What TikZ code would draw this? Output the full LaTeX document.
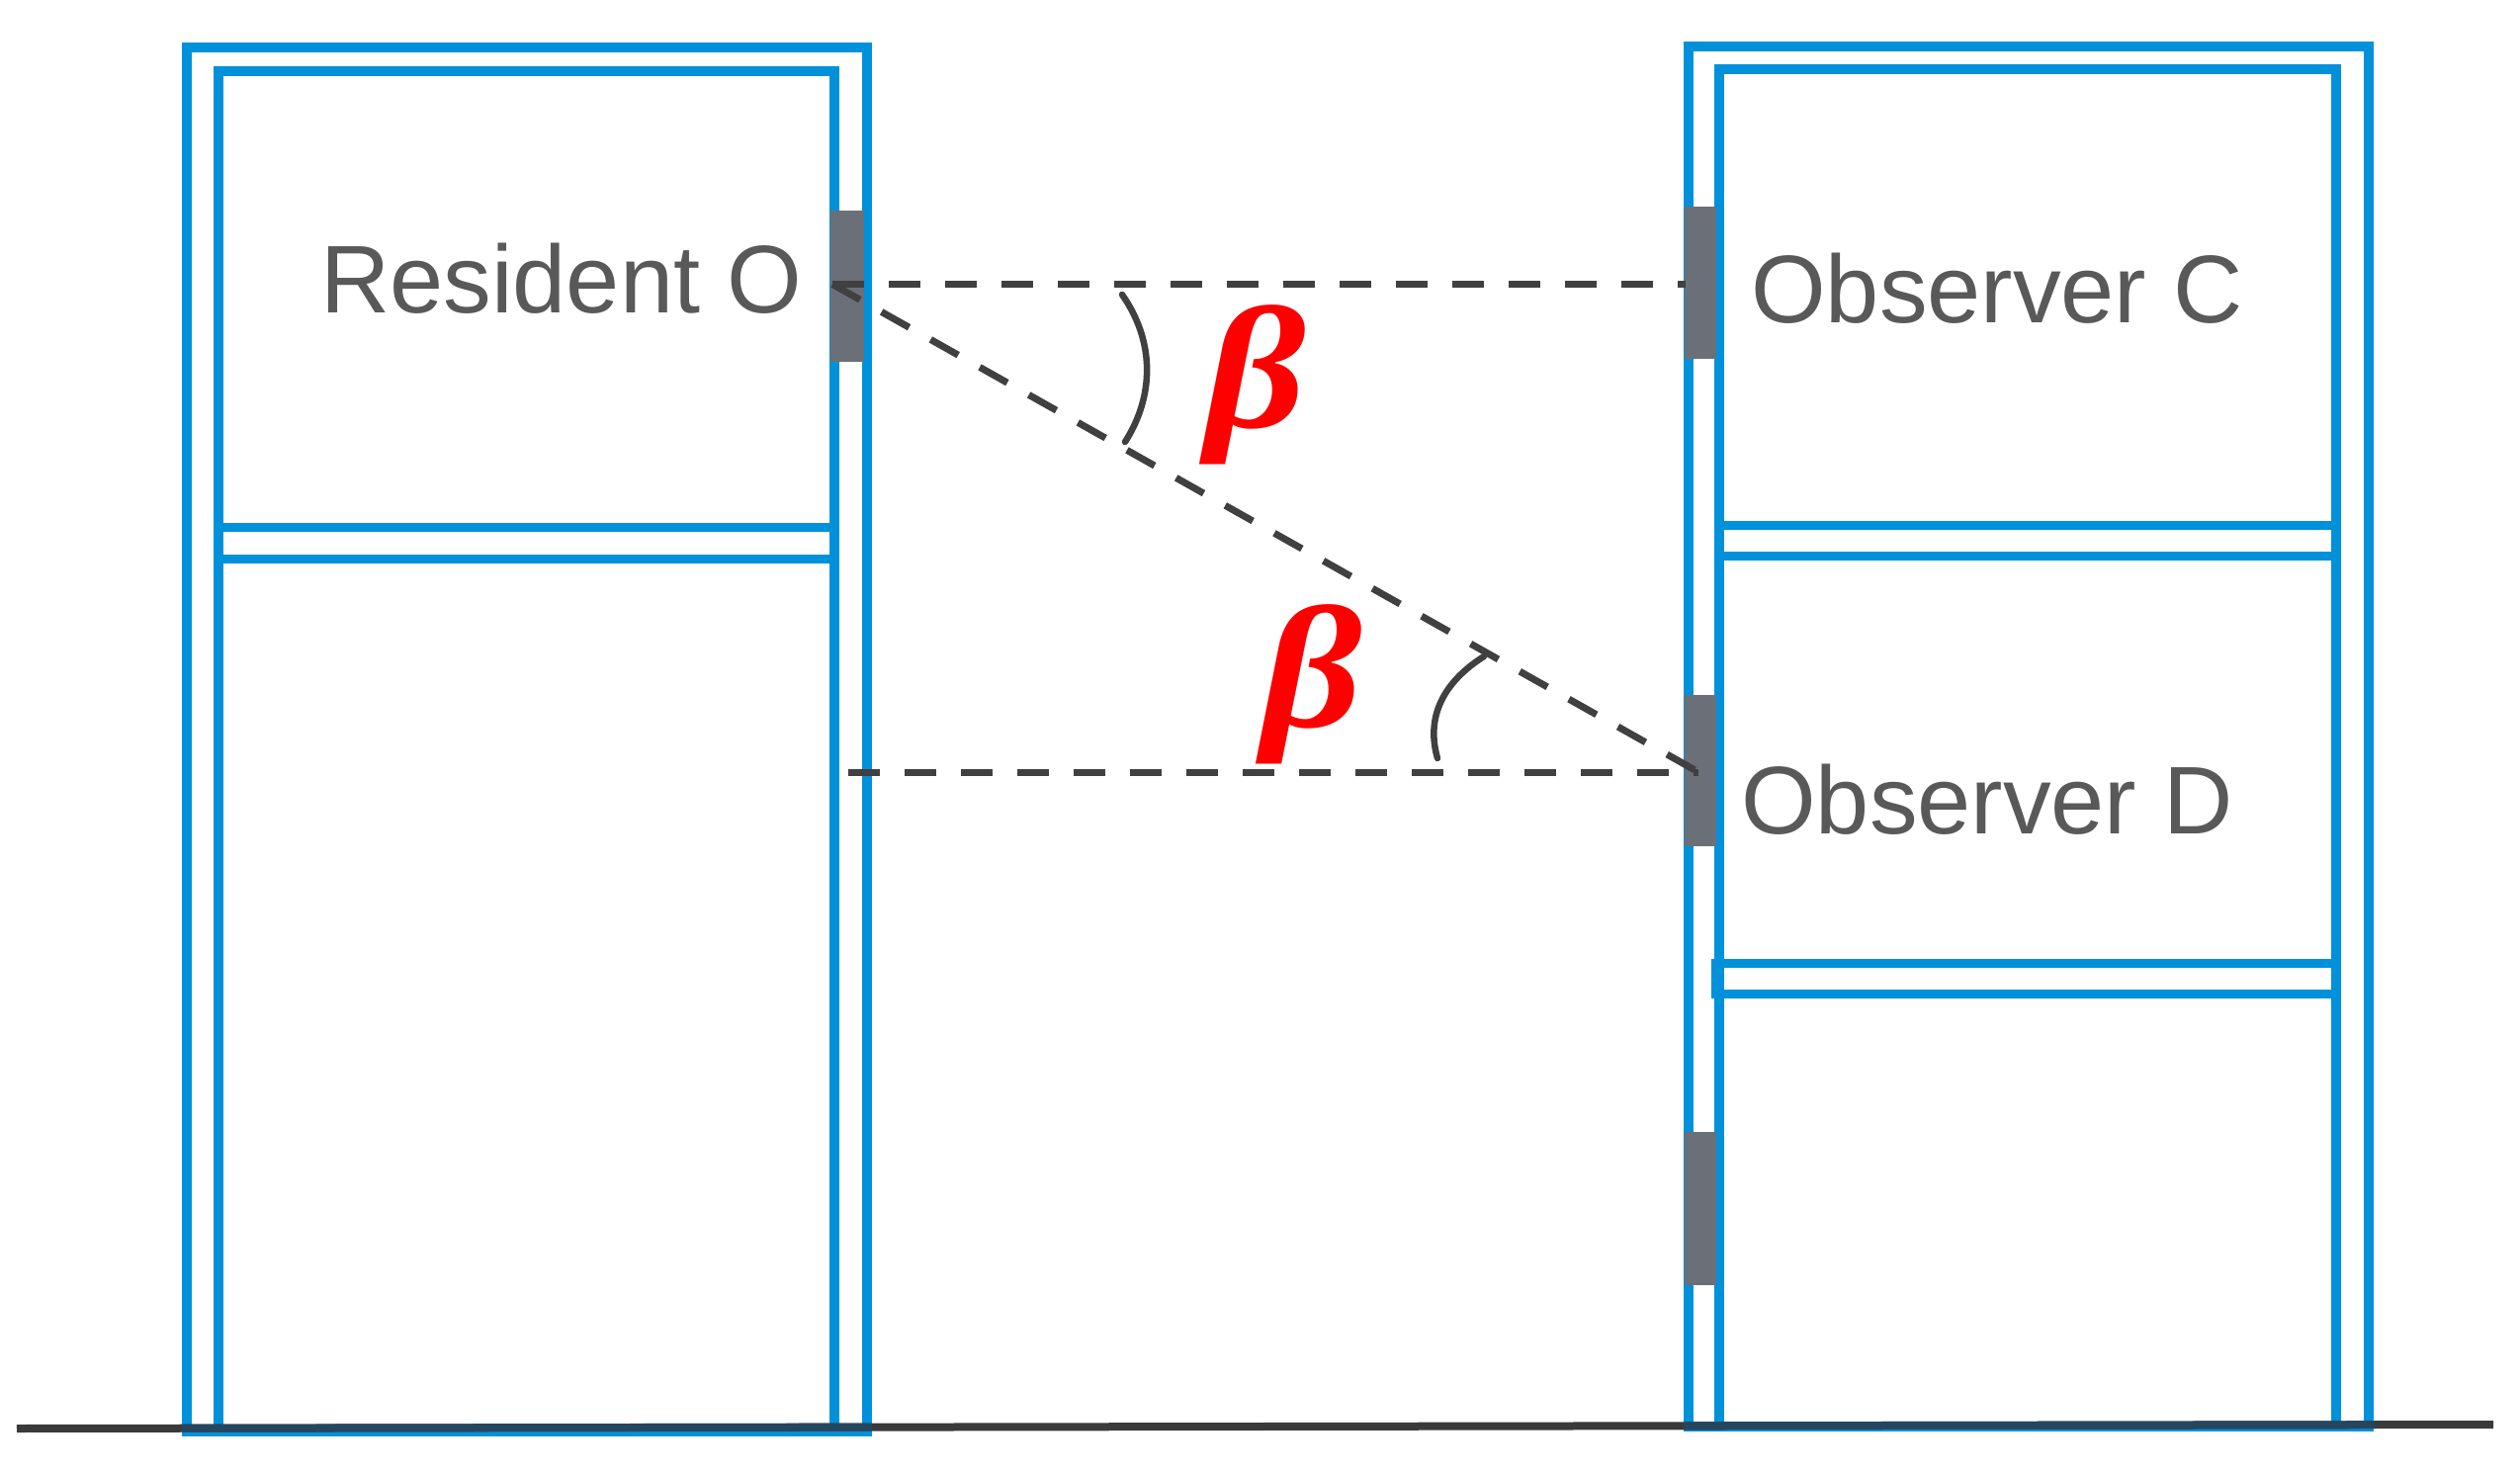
\documentclass[tikz,border=0pt]{standalone}
\usepackage{fontspec}
\newfontfamily\labelfont{Liberation Sans}
\newfontfamily\betafont[BoldItalicFont={Liberation Serif Bold Italic}]{Liberation Serif}
\definecolor{wallblue}{HTML}{0091DA}
\definecolor{winGray}{HTML}{6B7078}
\definecolor{dashGray}{HTML}{404040}
\definecolor{textGray}{HTML}{595959}
\definecolor{groundGray}{HTML}{3A3A3A}
\definecolor{groundBlue}{HTML}{25465E}
\tikzset{
  wall/.style={draw=wallblue,line width=10pt,line join=miter},
  floorline/.style={draw=wallblue,line width=9pt},
  window/.style={fill=winGray},
  sight/.style={draw=dashGray,line width=7pt,dash pattern=on 32pt off 25pt},
  anglearc/.style={draw=dashGray,line width=6.5pt,line cap=round},
  lbl/.style={inner sep=0pt,anchor=base west,text=textGray,font=\labelfont\fontsize{97.3}{100}\selectfont},
  betalbl/.style={inner sep=0pt,anchor=center,text=red,xscale=1.13,font=\betafont\bfseries\itshape\fontsize{176}{180}\selectfont},
}
\begin{document}
\begin{tikzpicture}[x=1pt,y=-1pt]
\useasboundingbox (0,0) rectangle (2549,1490);
% left building
\draw[wall] (189,48.5) rectangle (877,1448);
\draw[wall] (220.5,72.5) rectangle (844,1448);
\draw[floorline] (220,533) -- (844,533);
\draw[floorline] (220,565) -- (844,565);
% right building
\draw[wall] (1708,47) rectangle (2396,1443);
\draw[wall] (1738.5,70.5) rectangle (2362.5,1443);
\draw[floorline] (1738,531.5) -- (2362,531.5);
\draw[floorline] (1738,562) -- (2362,562);
\draw[floorline] (1735,974.5) rectangle (2362,1005.5);
% windows
\fill[window] (840,213) rectangle (874,366);
\fill[window] (1704,209) rectangle (1736,363);
\fill[window] (1704,703) rectangle (1736,856);
\fill[window] (1704,1145) rectangle (1736,1300);
% ground
\coordinate (gl) at (17,1445);
\coordinate (gr) at (2522,1441);
\draw[groundGray,line width=8pt] (gl) -- (gr);
\draw[groundBlue,line width=8pt] (184,1444.7) -- (882,1443.6);
\draw[groundBlue,line width=8pt] (1703,1442.3) -- (2402,1441.2);
% sight lines
\coordinate (O) at (842,287.5);
\coordinate (C) at (1705,287.5);
\coordinate (Ofoot) at (858,781);
\coordinate (D) at (1718,781);
\draw[sight] (O) -- (C);
\draw[sight] (O) -- (D);
\draw[sight] (Ofoot) -- (D);
% angle arcs
\draw[anglearc] (1135,298) .. controls (1168,345) and (1168,400) .. (1138,447);
\draw[anglearc] (1501,664) .. controls (1460,690) and (1442,725) .. (1454,767);
% labels
\node[lbl] (resident) at (324,316) {Resident O};
\node[lbl] (obsC) at (1771,326) {Observer C};
\node[lbl] (obsD) at (1761,843) {Observer D};
\node[betalbl] (beta1) at (1270,389) {β};
\node[betalbl] (beta2) at (1327,692) {β};
\end{tikzpicture}
\end{document}
